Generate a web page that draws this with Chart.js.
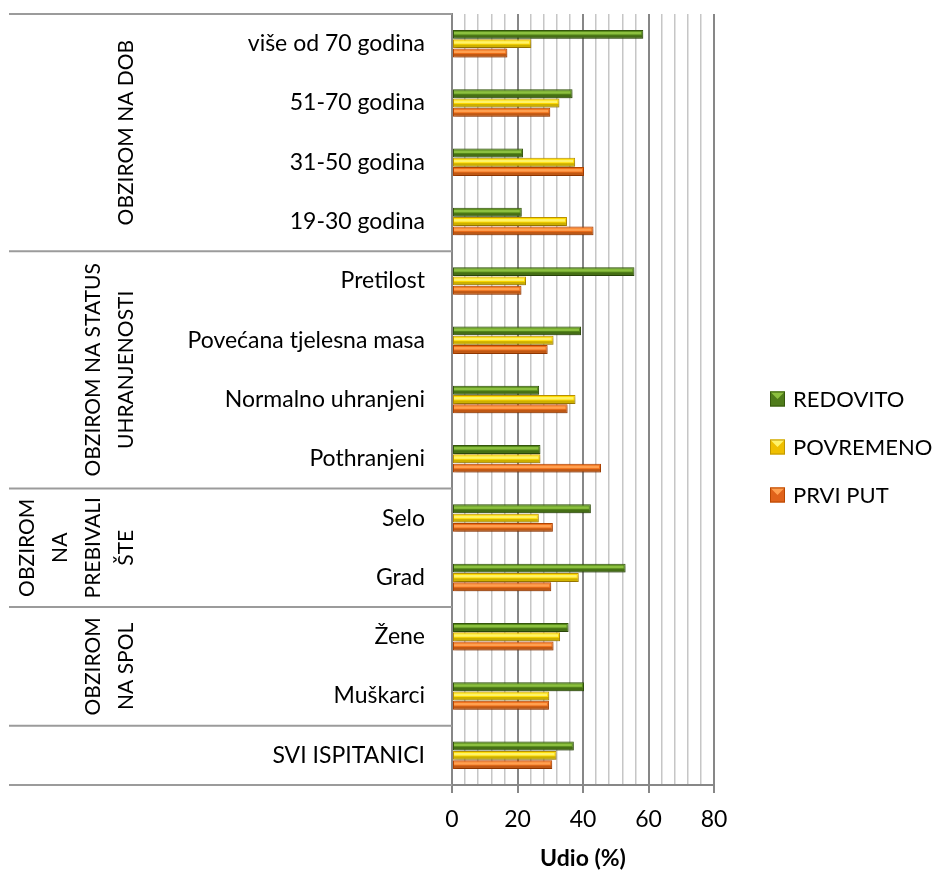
<!DOCTYPE html>
<html>
<head>
<meta charset="utf-8">
<script src="https://cdn.jsdelivr.net/npm/chart.js@4"></script>
<style>
  html, body { margin: 0; padding: 0; background: #fff; }
  #wrap { width: 937px; height: 872px; }
</style>
</head>
<body>
<div id="wrap"><canvas id="myChart1" width="937" height="872"></canvas></div>
<script>
// categories, top to bottom
var categories = [
    "više od 70 godina", "51-70 godina", "31-50 godina", "19-30 godina",
    "Pretilost", "Povećana tjelesna masa", "Normalno uhranjeni", "Pothranjeni",
    "Selo", "Grad",
    "Žene", "Muškarci",
    "SVI ISPITANICI"
];

// group labels (lines as shown) and how many categories each group spans
var groupLabels = [
    ["OBZIROM NA DOB"],
    ["OBZIROM NA STATUS", "UHRANJENOSTI"],
    ["OBZIROM", "NA", "PREBIVALI", "ŠTE"],
    ["OBZIROM", "NA SPOL"],
    []
];
var groupSizes = [4, 4, 2, 2, 1];

var seriesNames = ["REDOVITO", "POVREMENO", "PRVI PUT"];
var redovito  = [58.4, 36.8, 21.7, 21.3, 55.7, 39.4, 26.6, 27.0, 42.4, 53.0, 35.6, 40.3, 37.2];
var povremeno = [24.2, 32.8, 37.6, 35.1, 22.6, 31.0, 37.7, 27.0, 26.5, 38.7, 33.0, 29.7, 31.9];
var prviPut   = [16.9, 30.0, 40.3, 43.2, 21.2, 29.2, 35.3, 45.5, 30.8, 30.3, 31.0, 29.6, 30.6];

var xTicksMajor = [0, 20, 40, 60, 80];

var fontName = "Lato, 'Open Sans', sans-serif";

// fill, edge, highlight, legend swatch
var palette = [
    { fill: "#578a1b", edge: "#36590d", light: "#8cc03f", swatch: "#4f7c1a" },
    { fill: "#ffdb00", edge: "#bf9600", light: "#fff36a", swatch: "#efbf00" },
    { fill: "#ef6f1a", edge: "#b84600", light: "#ffa050", swatch: "#e0621a" }
];

var seriesData = [redovito, povremeno, prviPut];

// soft shadow under the bars, then a highlight stripe on each bar
var barShadow = {
    id: "barShadow",
    beforeDatasetsDraw: function (chart) {
        chart.ctx.save();
        chart.ctx.shadowColor = "rgba(0,0,0,0.3)";
        chart.ctx.shadowBlur = 4;
        chart.ctx.shadowOffsetX = 1;
        chart.ctx.shadowOffsetY = 2;
    },
    afterDatasetsDraw: function (chart) {
        chart.ctx.restore();
        let ctx = chart.ctx;
        chart.data.datasets.forEach(function (ds, di) {
            let meta = chart.getDatasetMeta(di);
            meta.data.forEach(function (bar) {
                let p = bar.getProps(["x", "y", "base", "height"], true);
                let top = p.y - p.height / 2;
                ctx.save();
                ctx.fillStyle = palette[di].light;
                ctx.fillRect(p.base + 1, top + 2, p.x - p.base - 3, 2.5);
                ctx.fillStyle = "rgba(0,0,0,0.2)";
                ctx.fillRect(p.base + 1, top + p.height - 3.5, p.x - p.base - 2, 2.5);
                ctx.restore();
            });
        });
    }
};

// group separators and group labels on the left
var groupAxis = {
    id: "groupAxis",
    afterDraw: function (chart) {
        let ctx = chart.ctx;
        let y = chart.scales.y;
        let area = chart.chartArea;
        let step = y.getPixelForValue(1) - y.getPixelForValue(0);
        let xLeft = 9;
        ctx.save();
        ctx.strokeStyle = "#9b9b9b";
        ctx.lineWidth = 2;
        let start = 0;
        let edges = [area.top];
        groupSizes.forEach(function (n) {
            start += n;
            edges.push(y.getPixelForValue(start - 1) + step / 2);
        });
        edges.forEach(function (py) {
            ctx.beginPath();
            ctx.moveTo(xLeft, py);
            ctx.lineTo(area.left, py);
            ctx.stroke();
        });

        ctx.fillStyle = "#000";
        ctx.font = "21px " + fontName;
        ctx.textAlign = "center";
        ctx.textBaseline = "middle";
        groupLabels.forEach(function (lines, g) {
            let cy = (edges[g] + edges[g + 1]) / 2;
            lines.forEach(function (line, k) {
                let cx = 126 - (lines.length - 1 - k) * 33;
                ctx.save();
                ctx.translate(cx, cy);
                ctx.rotate(-Math.PI / 2);
                ctx.fillText(line, 0, 0);
                ctx.restore();
            });
        });
        ctx.restore();
    }
};

// legend on the right
var sideLegend = {
    id: "sideLegend",
    afterDraw: function (chart) {
        let ctx = chart.ctx;
        ctx.save();
        ctx.font = "22px " + fontName;
        ctx.textBaseline = "middle";
        ctx.textAlign = "left";
        chart.data.datasets.forEach(function (ds, i) {
            let cy = 399 + i * 48;
            let c = palette[i];
            ctx.fillStyle = c.swatch;
            ctx.fillRect(770, cy - 7.5, 15, 15);
            ctx.fillStyle = c.light;
            ctx.beginPath();
            ctx.moveTo(770, cy - 7.5);
            ctx.lineTo(785, cy - 7.5);
            ctx.lineTo(777.5, cy);
            ctx.closePath();
            ctx.fill();
            ctx.strokeStyle = c.edge;
            ctx.lineWidth = 1;
            ctx.strokeRect(770.5, cy - 7, 14, 14);
            ctx.fillStyle = "#000";
            ctx.fillText(ds.label, 793, cy + 1);
        });
        ctx.restore();
    }
};

const ctx = document.getElementById("myChart1").getContext("2d");
var myChart = new Chart(ctx, {
    type: "bar",
    data: {
        labels: categories,
        datasets: seriesNames.map(function (name, i) {
            return {
                label: name,
                data: seriesData[i],
                backgroundColor: palette[i].fill,
                borderColor: palette[i].edge,
                borderWidth: 1,
                borderSkipped: false,
                barPercentage: 0.96,
                categoryPercentage: 0.47
            };
        })
    },
    options: {
        indexAxis: "y",
        responsive: false,
        animation: false,
        devicePixelRatio: 1,
        layout: { padding: { left: 0, right: 223, top: 14, bottom: 0 } },
        plugins: {
            legend: { display: false },
            tooltip: { enabled: false }
        },
        scales: {
            x: {
                min: 0,
                max: 80,
                afterFit: function (scale) { scale.height = 87; },
                ticks: {
                    stepSize: 4,
                    autoSkip: false,
                    maxRotation: 0,
                    padding: 13,
                    color: "#000",
                    font: { family: fontName, size: 23 },
                    callback: function (v) { return xTicksMajor.indexOf(v) >= 0 ? v : ""; }
                },
                grid: {
                    color: function (c) { return c.tick && c.tick.value % 20 === 0 ? "#878787" : "#c6c6c6"; },
                    lineWidth: function (c) { return c.tick && c.tick.value % 20 === 0 ? 2 : 1.5; },
                    tickColor: function (c) { return c.tick && c.tick.value % 20 === 0 ? "#878787" : "rgba(0,0,0,0)"; },
                    tickLength: 8
                },
                border: { color: "#878787", width: 2 },
                title: {
                    display: true,
                    text: "Udio (%)",
                    color: "#000",
                    font: { family: fontName, size: 23, weight: "bold" },
                    padding: { top: 0, bottom: 0 }
                }
            },
            y: {
                afterFit: function (scale) {
                    scale.width = 452;
                    scale.paddingTop = 0;
                    scale.paddingBottom = 0;
                },
                ticks: {
                    padding: 19,
                    color: "#000",
                    font: { family: fontName, size: 23 }
                },
                grid: { display: false },
                border: { color: "#878787", width: 2 }
            }
        }
    },
    plugins: [barShadow, groupAxis, sideLegend]
});
</script>
</body>
</html>
